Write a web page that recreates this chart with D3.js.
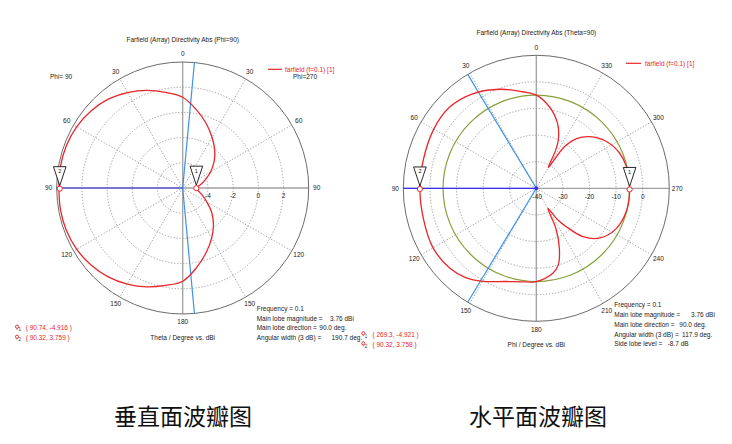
<!DOCTYPE html>
<html><head><meta charset="utf-8">
<script src="https://cdn.jsdelivr.net/npm/d3@7"></script>
<style>
html,body{margin:0;padding:0;background:#fff;}
svg{display:block;}
text{font-family:"Liberation Sans",Arial,sans-serif;}
</style></head>
<body>
<svg id="c" width="732" height="444"></svg>
<script>
// ---------- Left chart: Farfield cut Phi=90 / Phi=270 (values in dBi) ----------
const thetaDeg = [0,10,20,30,40,50,60,70,80,90,100,110,120,130,140,150,160,170,180];
const dbPhi90  = [1.20,1.70,2.25,2.75,3.20,3.50,3.72,3.83,3.85,3.82,3.85,3.83,3.72,3.50,3.20,2.80,2.35,1.85,1.40];
const dbPhi270 = [1.20,0.30,-0.55,-1.35,-2.05,-2.75,-3.45,-4.10,-4.60,-4.92,-4.75,-4.35,-3.80,-3.00,-2.20,-1.40,-0.55,0.40,1.40];
const leftRadialTicks = [-4,-2,0,2];
const leftAngleLabels = ["0","30","60","90","120","150","180","150","120","90","60","30"];
const leftMarkers = [{id:"1", side:270, theta:90.74, db:-4.916},{id:"2", side:90, theta:90.32, db:3.759}];
const leftInfoLabels = ["Frequency = 0.1","Main lobe magnitude =","Main lobe direction =","Angular width (3 dB) ="];
const leftInfoValues = ["","3.76 dBi","90.0 deg.","190.7 deg."];
const leftMainDir = 90.0, leftBeamWidth = 190.7;

// ---------- Right chart: Farfield cut Theta=90 (phi in degrees, values in dBi) ----------
const phiDeg = [0,8,20,34,47,60,76,90,105,120,133,142,150,162,172,180,191,196,201,206,210,214,218,224,232,243,256,270,284,293,304,314,321,326,330,333,336,342,351];
const dbTheta90 = [-4.95,-3.35,-0.38,2.86,4.66,4.51,3.80,3.76,3.95,4.81,4.25,2.78,0.38,-3.16,-4.50,-4.95,-7.44,-10.04,-15.79,-23.2,-31.3,-26.0,-21.7,-14.74,-9.66,-6.39,-5.04,-4.92,-5.19,-6.02,-8.38,-12.07,-15.94,-21.0,-31.0,-24.0,-19.5,-14.25,-8.87];
const rightRadialTicks = [-40,-30,-20,-10,0];
const rightAngleLabels = ["0","330","300","270","240","210","180","150","120","90","60","30"];
const rightMarkers = [{id:"1", phi:269.3, db:-4.921},{id:"2", phi:90.32, db:3.758}];
const rightInfoLabels = ["Frequency = 0.1","Main lobe magnitude =","Main lobe direction =","Angular width (3 dB) =","Side lobe level ="];
const rightInfoValues = ["","3.76 dBi","90.0 deg.","117.9 deg.","-8.7 dB"];
const rightMainDir = 90.0, rightBeamWidth = 117.9, rightMainMag = 3.76, rightSideLobe = -8.7;

// ---------- helpers ----------
const svg = d3.select("#c");
const RED = "#e8262b", DBLUE = "#3434f2", LBLUE = "#3d93e6", GREEN = "#86a03c";
const rad = d => d*Math.PI/180;
const pt = (a, rr) => [rr*Math.sin(a), -rr*Math.cos(a)];

function frame(cx, cy, R, domain, ticks, angleLabels, labelR, showCenterLabel){
  const g = svg.append("g").attr("transform",`translate(${cx},${cy})`);
  const r = d3.scaleLinear().domain(domain).range([0,R]);
  g.selectAll("circle.grid").data(ticks.filter(t=>r(t)>0.5)).join("circle")
    .attr("r",d=>r(d)).attr("fill","none").attr("stroke","#8a8a8a")
    .attr("stroke-width",0.8).attr("stroke-dasharray","1.3,1.7");
  const spokes = d3.range(0,360,30);
  g.selectAll("line.sp").data(spokes.filter(a=>a%90!==0)).join("line")
    .attr("x1",0).attr("y1",0)
    .attr("x2",a=>pt(rad(a),R)[0]).attr("y2",a=>pt(rad(a),R)[1])
    .attr("stroke","#8a8a8a").attr("stroke-width",0.8).attr("stroke-dasharray","1.3,1.7");
  g.append("line").attr("x1",0).attr("x2",0).attr("y1",-R).attr("y2",R).attr("stroke","#a0a0a0").attr("stroke-width",1.3);
  g.append("line").attr("x1",-R).attr("x2",R).attr("y1",0).attr("y2",0).attr("stroke","#a0a0a0").attr("stroke-width",1.3);
  g.append("circle").attr("r",R).attr("fill","none").attr("stroke","#5a5a5a").attr("stroke-width",0.9);
  g.selectAll("text.al").data(spokes).join("text")
    .attr("x",a=>pt(rad(a),labelR)[0]).attr("y",a=>pt(rad(a),labelR)[1])
    .attr("dy","0.35em").attr("text-anchor","middle")
    .attr("font-size",6.5).attr("fill","#222").text((a,i)=>angleLabels[i]);
  g.selectAll("text.rl").data(ticks.filter(t=>showCenterLabel || r(t)>0.5)).join("text")
    .attr("x",d=>r(d)+(r(d)<0.5?1:0)).attr("y",8)
    .attr("dy","0.35em").attr("text-anchor","middle")
    .attr("font-size",6.5).attr("fill","#222").text(d=>d);
  return {g, r};
}

function marker(g, a, rr, id){
  const [x,y] = pt(a, rr);
  g.append("path").attr("d",`M${x-6.3},${y-22}L${x+6.3},${y-22}L${x},${y-3}Z`)
    .attr("fill","#fff").attr("stroke","#111").attr("stroke-width",0.9);
  g.append("text").attr("x",x).attr("y",y-17.5).attr("dy","0.35em").attr("text-anchor","middle")
    .attr("font-size",5.5).attr("fill","#111").text(id);
  g.append("circle").attr("cx",x).attr("cy",y).attr("r",2.6).attr("fill","#fff")
    .attr("stroke",RED).attr("stroke-width",1);
}

function info(x0, ys, labels, values, valueXs){
  labels.forEach((t,i)=>{
    svg.append("text").attr("x",x0).attr("y",ys[i]).attr("dy","0.35em")
      .attr("font-size",6.5).attr("fill","#222").text(t);
    if(values[i]) svg.append("text").attr("x",valueXs[i]).attr("y",ys[i]).attr("dy","0.35em")
      .attr("font-size",6.5).attr("fill","#222").text(values[i]);
  });
}

function readout(xi, xt, ys, items){
  items.forEach((t,i)=>{
    svg.append("circle").attr("cx",xi).attr("cy",ys[i]-1).attr("r",1.6).attr("fill","none").attr("stroke",RED).attr("stroke-width",0.9);
    svg.append("line").attr("x1",xi).attr("x2",xi).attr("y1",ys[i]+0.6).attr("y2",ys[i]+2).attr("stroke",RED).attr("stroke-width",0.8);
    svg.append("text").attr("x",xi+1.5).attr("y",ys[i]+3.5).attr("font-size",4.5).attr("fill","#333").text(String(i+1));
    svg.append("text").attr("x",xt).attr("y",ys[i]).attr("dy","0.35em").attr("font-size",6.5).attr("fill",RED).text(t);
  });
}

// ---------- LEFT ----------
{
  const cx=182.7, cy=188, R=126;
  const {g, r} = frame(cx, cy, R, [-6,4], leftRadialTicks, leftAngleLabels, 134, false);
  const e1 = rad(leftMainDir - leftBeamWidth/2), e2 = rad(leftMainDir + leftBeamWidth/2);
  [e1,e2].forEach(e=>{ const [x,y]=pt(-e,R); g.append("line").attr("x1",0).attr("y1",0).attr("x2",x).attr("y2",y).attr("stroke",LBLUE).attr("stroke-width",1.2); });
  { const [x,y]=pt(-rad(leftMainDir),R); g.append("line").attr("x1",0).attr("y1",0).attr("x2",x).attr("y2",y).attr("stroke",DBLUE).attr("stroke-width",1.2); }
  const right = thetaDeg.map((t,i)=>({a:rad(t), v:dbPhi270[i]}));
  const left = thetaDeg.map((t,i)=>({t, a:-rad(t), v:dbPhi90[i]})).filter(d=>d.t>0 && d.t<180).reverse();
  const line = d3.lineRadial().angle(d=>d.a).radius(d=>r(d.v)).curve(d3.curveCatmullRomClosed.alpha(0.5));
  g.append("path").attr("d",line(right.concat(left))).attr("fill","none").attr("stroke",RED).attr("stroke-width",1.3);
  leftMarkers.forEach(m=>marker(g, m.side===270? rad(m.theta) : -rad(m.theta), r(m.db), m.id));
  svg.append("text").attr("x",cx).attr("y",40).attr("dy","0.35em").attr("text-anchor","middle").attr("font-size",6.5).attr("fill","#222").text("Farfield (Array) Directivity Abs (Phi=90)");
  svg.append("text").attr("x",50).attr("y",77).attr("dy","0.35em").attr("font-size",6.5).attr("fill","#222").text("Phi= 90");
  svg.append("text").attr("x",293).attr("y",77).attr("dy","0.35em").attr("font-size",6.5).attr("fill","#222").text("Phi=270");
  svg.append("line").attr("x1",268).attr("x2",282).attr("y1",69.3).attr("y2",69.3).attr("stroke",RED).attr("stroke-width",1.2);
  svg.append("text").attr("x",285).attr("y",69.3).attr("dy","0.35em").attr("font-size",6.5).attr("fill",RED).text("farfield (f=0.1) [1]");
  svg.append("text").attr("x",cx).attr("y",337.7).attr("dy","0.35em").attr("text-anchor","middle").attr("font-size",6.5).attr("fill","#222").text("Theta / Degree vs. dBi");
  info(256.7,[309,318.7,328,337.7], leftInfoLabels, leftInfoValues, [0,330,319.3,331.5]);
  readout(17, 25.7, [327.7,337.7], ["( 90.74, -4.916 )","( 90.32, 3.759 )"]);
}

// ---------- RIGHT ----------
{
  const cx=536.3, cy=188.3, R=133;
  const {g, r} = frame(cx, cy, R, [-40,10], rightRadialTicks, rightAngleLabels, 141, true);
  g.append("circle").attr("r",r(rightMainMag+rightSideLobe)).attr("fill","none").attr("stroke",GREEN).attr("stroke-width",1.2);
  [rightMainDir-rightBeamWidth/2, rightMainDir+rightBeamWidth/2].forEach(p=>{ const [x,y]=pt(-rad(p),R); g.append("line").attr("x1",0).attr("y1",0).attr("x2",x).attr("y2",y).attr("stroke",LBLUE).attr("stroke-width",1.2); });
  { const [x,y]=pt(-rad(rightMainDir),R); g.append("line").attr("x1",0).attr("y1",0).attr("x2",x).attr("y2",y).attr("stroke",DBLUE).attr("stroke-width",1.2); }
  const pts = phiDeg.map((p,i)=>({a:-rad(p), v:dbTheta90[i]}));
  const line = d3.lineRadial().angle(d=>d.a).radius(d=>r(d.v)).curve(d3.curveCatmullRomClosed.alpha(0.5));
  g.append("path").attr("d",line(pts)).attr("fill","none").attr("stroke",RED).attr("stroke-width",1.3);
  g.append("circle").attr("r",2).attr("fill",DBLUE);
  rightMarkers.forEach(m=>marker(g, -rad(m.phi), r(m.db), m.id));
  svg.append("text").attr("x",cx).attr("y",33).attr("dy","0.35em").attr("text-anchor","middle").attr("font-size",6.5).attr("fill","#222").text("Farfield (Array) Directivity Abs (Theta=90)");
  svg.append("line").attr("x1",626).attr("x2",641).attr("y1",63.3).attr("y2",63.3).attr("stroke",RED).attr("stroke-width",1.2);
  svg.append("text").attr("x",645).attr("y",63.3).attr("dy","0.35em").attr("font-size",6.5).attr("fill",RED).text("farfield (f=0.1) [1]");
  svg.append("text").attr("x",cx).attr("y",344.3).attr("dy","0.35em").attr("text-anchor","middle").attr("font-size",6.5).attr("fill","#222").text("Phi / Degree vs. dBi");
  info(614.3,[305,315,324.7,334.3,344], rightInfoLabels, rightInfoValues, [0,691,679.3,682,667.7]);
  readout(363.3, 372.5, [334.3,344.3], ["( 269.3, -4.921 )","( 90.32, 3.758 )"]);
}

// ---------- captions ----------
const captions = ["垂直面波瓣图","水平面波瓣图"];
const captionX = [183, 538];
captions.forEach((t,i)=>svg.append("text").attr("x",captionX[i]).attr("y",417).attr("dy","0.36em")
  .attr("text-anchor","middle").attr("font-size",23)
  .style("font-family","'Noto Sans CJK SC','Noto Sans CJK JP',sans-serif").attr("fill","#111").text(t));
</script>
</body></html>
